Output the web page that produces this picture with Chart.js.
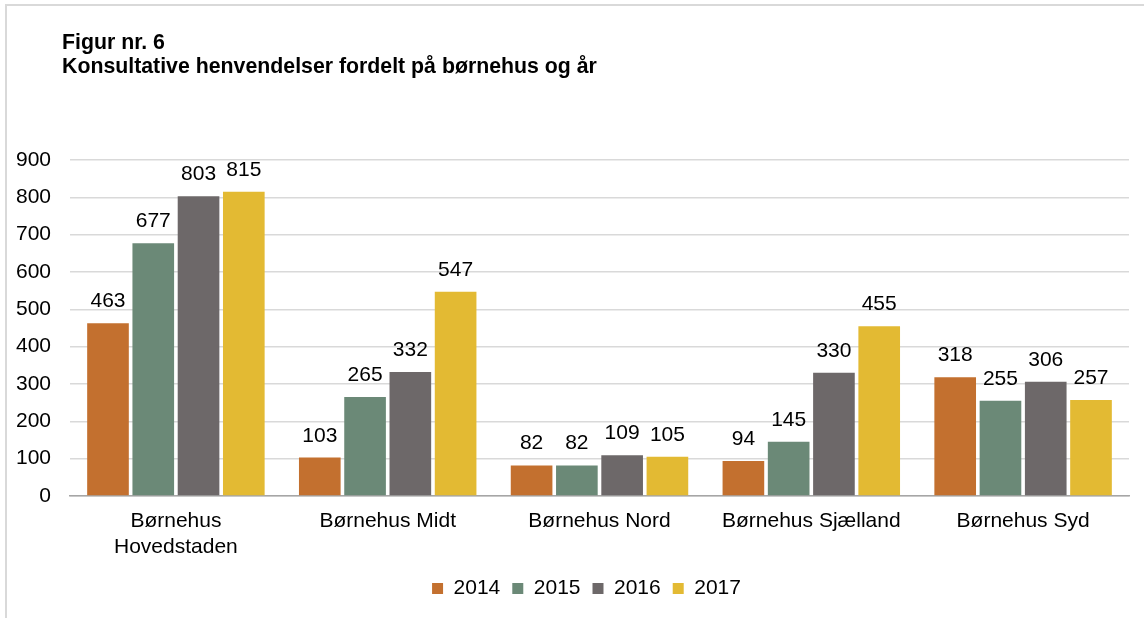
<!DOCTYPE html>
<html>
<head>
<meta charset="utf-8">
<script src="https://cdn.jsdelivr.net/npm/chart.js@4/dist/chart.umd.min.js"></script>
<style>
  html, body { margin: 0; padding: 0; background: #fff; }
  #wrap { position: relative; width: 1144px; height: 618px; overflow: hidden; }
  #frame { position: absolute; left: 5px; top: 4px; width: 1200px; height: 700px;
           border-left: 2px solid #d9d9d9; border-top: 2px solid #d9d9d9; box-sizing: border-box; }
  #title { position: absolute; left: 62px; top: 30px; font-family: "Liberation Sans", Arial, sans-serif;
           font-weight: bold; font-size: 21.3px; line-height: 24px; color: #000; }
  canvas { position: absolute; left: 0; top: 0; }
</style>
</head>
<body>
<div id="wrap">
  <div id="frame"></div>
  <canvas id="c" width="1144" height="618"></canvas>
  <div id="title">Figur nr. 6<br>Konsultative henvendelser fordelt på børnehus og år</div>
</div>
<script>
const categories = [["Børnehus", "Hovedstaden"], "Børnehus Midt", "Børnehus Nord", "Børnehus Sjælland", "Børnehus Syd"];
const seriesNames = ["2014", "2015", "2016", "2017"];
const values2014 = [463, 103, 82, 94, 318];
const values2015 = [677, 265, 82, 145, 255];
const values2016 = [803, 332, 109, 330, 306];
const values2017 = [815, 547, 105, 455, 257];
const seriesColors = ["#C3702F", "#6B8977", "#6D6869", "#E3BA33"];
const yTicks = [0, 100, 200, 300, 400, 500, 600, 700, 800, 900];

const FONT = "'Liberation Sans', Arial, sans-serif";
const FS = 21;

const valueLabels = {
  id: 'valueLabels',
  afterDatasetsDraw(chart) {
    const ctx = chart.ctx;
    ctx.save();
    ctx.font = FS + "px " + FONT;
    ctx.fillStyle = "#000";
    ctx.textAlign = "center";
    ctx.textBaseline = "alphabetic";
    chart.data.datasets.forEach((ds, i) => {
      const meta = chart.getDatasetMeta(i);
      meta.data.forEach((el, j) => {
        ctx.fillText(String(ds.data[j]), el.x, el.y - 16);
      });
    });
    ctx.restore();
  }
};

// nudge the legend box so it is centred like in the original layout
const legendShift = {
  id: 'legendShift',
  afterLayout(chart) {
    const lg = chart.legend;
    if (lg) { lg.left += 22; lg.right += 22; }
  }
};

const allSeries = [values2014, values2015, values2016, values2017];

new Chart(document.getElementById('c'), {
  type: 'bar',
  data: {
    labels: categories,
    datasets: allSeries.map((vals, i) => ({
      label: seriesNames[i],
      data: vals,
      backgroundColor: seriesColors[i],
      borderWidth: 0,
      categoryPercentage: 0.855,
      barPercentage: 0.92
    }))
  },
  options: {
    responsive: false,
    animation: false,
    devicePixelRatio: 1,
    layout: { padding: { left: 0, right: 15, top: 160, bottom: 9 } },
    plugins: {
      title: { display: false },
      tooltip: { enabled: false },
      legend: {
        position: 'bottom',
        labels: {
          font: { family: FONT, size: FS },
          color: '#000',
          boxWidth: 11,
          boxHeight: 11,
          padding: 12
        }
      }
    },
    scales: {
      x: {
        grid: { display: false, drawTicks: false },
        border: { display: true, color: '#A6A6A6', width: 1.5 },
        ticks: {
          font: { family: FONT, size: FS, lineHeight: 1.2 },
          color: '#000',
          padding: 13,
          maxRotation: 0,
          autoSkip: false
        },
        afterFit(scale) { scale.height = 70; }
      },
      y: {
        min: 0,
        max: 900,
        afterBuildTicks(scale) { scale.ticks = yTicks.map(v => ({ value: v })); },
        grid: { color: '#D9D9D9', lineWidth: 1.5, drawTicks: false },
        border: { display: false },
        ticks: {
          font: { family: FONT, size: FS },
          color: '#000',
          padding: 19
        },
        afterFit(scale) { scale.width = 70; }
      }
    }
  },
  plugins: [valueLabels, legendShift]
});
</script>
</body>
</html>
